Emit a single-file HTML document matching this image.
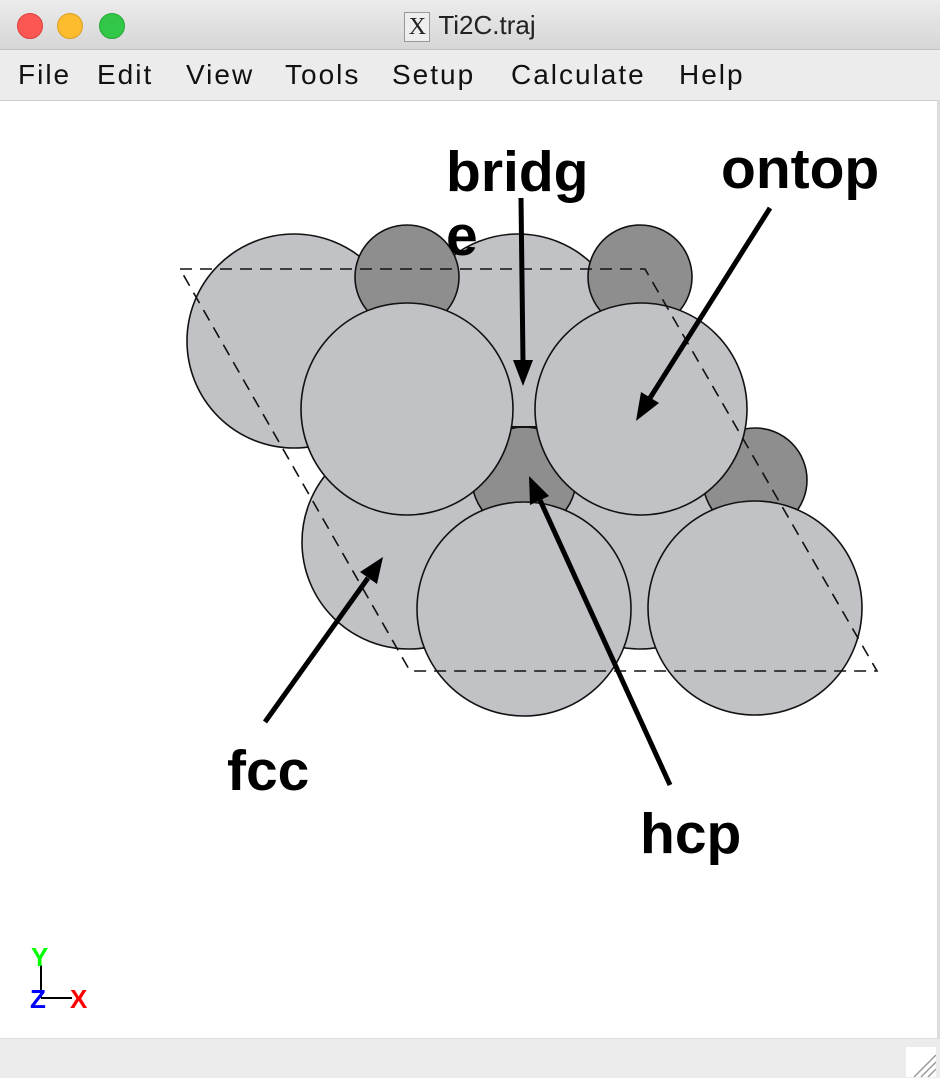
<!DOCTYPE html>
<html><head><meta charset="utf-8"><style>
html,body{margin:0;padding:0;}
body{width:940px;height:1077px;position:relative;overflow:hidden;background:#fff;font-family:"Liberation Sans",sans-serif;}
#titlebar{position:absolute;left:0;top:0;width:940px;height:49px;background:linear-gradient(#ececec,#d6d6d6);border-bottom:1px solid #c4c4c4;}
.dot{position:absolute;top:13px;width:24px;height:24px;border-radius:50%;}
#title{position:absolute;left:0;width:940px;top:10px;text-align:center;font-size:26px;color:#222;}
#xicon{display:inline-block;width:24px;height:28px;border:1px solid #999;background:#eee;font-family:"Liberation Serif",serif;font-size:24px;line-height:28px;text-align:center;vertical-align:middle;margin-right:8px;}
#menubar{position:absolute;left:0;top:50px;width:940px;height:50px;background:#ececec;border-bottom:1px solid #ccc;}
.menu{position:absolute;top:9px;font-size:28px;color:#111;letter-spacing:2px;}
#status{position:absolute;left:0;top:1038px;width:940px;height:39px;background:#ececec;border-top:1px solid #ddd;}
#rborder{position:absolute;left:937px;top:100px;width:3px;height:938px;background:#ddd;}
</style></head><body>
<div id="titlebar">
  <div class="dot" style="left:17px;background:#fc5753;border:1px solid #de3f3a"></div>
  <div class="dot" style="left:57px;background:#fdbc2e;border:1px solid #dd9f24"></div>
  <div class="dot" style="left:99px;background:#33c748;border:1px solid #27a83a"></div>
  <div id="title"><span id="xicon">X</span>Ti2C.traj</div>
</div>
<div id="menubar">
  <span class="menu" style="left:18px">File</span>
  <span class="menu" style="left:97px">Edit</span>
  <span class="menu" style="left:186px">View</span>
  <span class="menu" style="left:285px">Tools</span>
  <span class="menu" style="left:392px">Setup</span>
  <span class="menu" style="left:511px">Calculate</span>
  <span class="menu" style="left:679px">Help</span>
</div>
<svg id="canvas" width="940" height="1077" style="position:absolute;left:0;top:0">
  <defs>
    <clipPath id="hcpclip"><rect x="0" y="427" width="940" height="200"/></clipPath>
  </defs>
  <g stroke="#111" stroke-width="1.6">
    <circle cx="294" cy="341" r="107" fill="#c0c2c6"/>
    <circle cx="518" cy="341" r="107" fill="#c0c2c6"/>
    <circle cx="409" cy="542" r="107" fill="#c0c2c6"/>
    <circle cx="640" cy="542" r="107" fill="#c0c2c6"/>
    <circle cx="407" cy="277" r="52" fill="#8e8e8e"/>
    <circle cx="640" cy="277" r="52" fill="#8e8e8e"/>
    <circle cx="524" cy="479" r="52" fill="#8e8e8e" clip-path="url(#hcpclip)"/>
    <line x1="490" y1="427" x2="558" y2="427" stroke-width="2"/>
    <circle cx="755" cy="480" r="52" fill="#8e8e8e"/>
    <circle cx="407" cy="409" r="106" fill="#c0c2c6"/>
    <circle cx="641" cy="409" r="106" fill="#c0c2c6"/>
    <circle cx="524" cy="609" r="107" fill="#c0c2c6"/>
    <circle cx="755" cy="608" r="107" fill="#c0c2c6"/>
  </g>
  <polygon points="180,269 645,269 877,671 410,671" fill="none" stroke="#111" stroke-width="1.6" stroke-dasharray="12,8"/>
  <g stroke="#000" stroke-width="5" fill="#000">
    <line x1="521" y1="198" x2="523" y2="362"/>
    <polygon points="513,360 533,360 523,386" stroke="none"/>
    <line x1="770" y1="208" x2="650" y2="398"/>
    <polygon points="641,392 659,403 636,421" stroke="none"/>
    <line x1="265" y1="722" x2="368" y2="578"/>
    <polygon points="360,572 377,584 383,557" stroke="none"/>
    <line x1="670" y1="785" x2="540" y2="500"/>
    <polygon points="530,505 549,496 529,476" stroke="none"/>
  </g>
  <g font-family="Liberation Sans, sans-serif" font-weight="bold" font-size="57" fill="#000">
    <text x="446" y="191">bridg</text>
    <text x="446" y="255">e</text>
    <text x="721" y="188">ontop</text>
    <text x="227" y="790">fcc</text>
    <text x="640" y="853">hcp</text>
  </g>
  <g font-family="Liberation Sans, sans-serif" font-weight="bold" font-size="26">
    <line x1="41" y1="965" x2="41" y2="998" stroke="#000" stroke-width="2"/>
    <line x1="41" y1="998" x2="72" y2="998" stroke="#000" stroke-width="2"/>
    <text x="31" y="966" fill="#00ff00">Y</text>
    <text x="30" y="1008" fill="#0000ff">Z</text>
    <text x="70" y="1008" fill="#ff0000">X</text>
  </g>
</svg>
<div id="rborder"></div>
<div id="status">
  <svg width="30" height="30" style="position:absolute;left:906px;top:8px">
    <rect x="0" y="0" width="30" height="30" fill="#fff"/>
    <g stroke="#999" stroke-width="1.5"><line x1="8" y1="30" x2="30" y2="8"/><line x1="15" y1="30" x2="30" y2="15"/><line x1="22" y1="30" x2="30" y2="22"/></g>
  </svg>
</div>
</body></html>
